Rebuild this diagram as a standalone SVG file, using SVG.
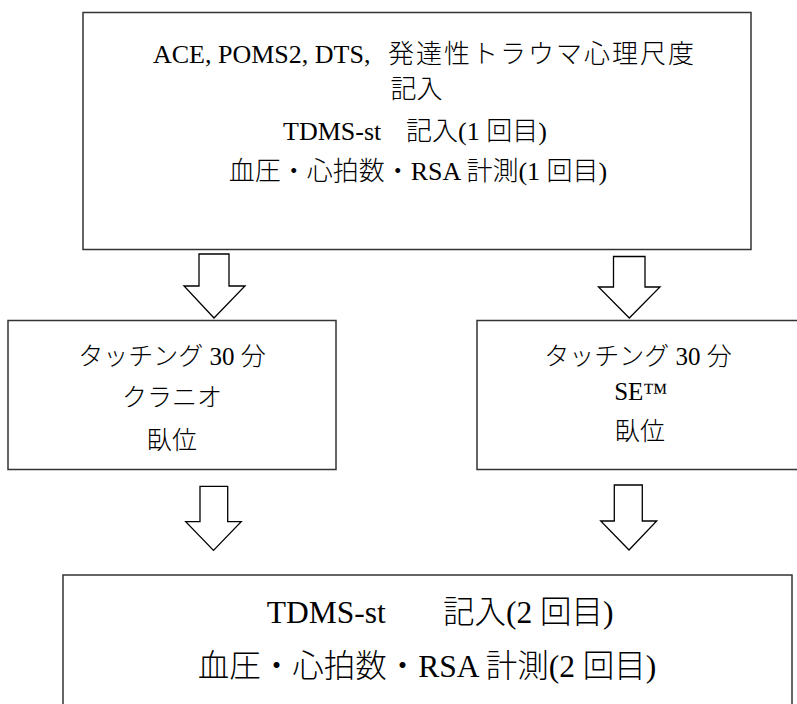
<svg xmlns="http://www.w3.org/2000/svg" width="797" height="704" viewBox="0 0 797 704">
<style>
.box{fill:#fff;stroke:#333;stroke-width:1.5}
.arr{fill:#fff;stroke:#000;stroke-width:1.3;stroke-linejoin:miter}
text{font-family:"Liberation Serif","Noto Sans CJK JP",serif;font-weight:300;fill:#000}
.t26{font-size:26px}
.t25{font-size:25px}
.t31{font-size:31.5px}
.c{text-anchor:middle}
</style>
<rect width="797" height="704" fill="#fff"/>
<g id="connectors">
<polygon class="arr" points="199,254 229,254 229,286 245,286 214,318 184,286 199,286"/>
<polygon class="arr" points="613.5,256.5 645,256.5 645,287 660,287 629.3,318 598.5,287 613.5,287"/>
<polygon class="arr" points="200,486.3 227.7,486.3 227.7,521.7 241.2,521.7 213.5,550.4 185.7,521.7 200,521.7"/>
<polygon class="arr" points="614.3,485 642.3,485 642.3,521 656.7,521 629,550 600.7,521 614.3,521"/>
</g>
<g id="node-start">
<rect class="box" x="83" y="12.5" width="668" height="237"/>
<text class="t26" y="63.4"><tspan x="153">ACE, POMS2, DTS,</tspan><tspan x="388" letter-spacing="2">発達性トラウマ心理尺度</tspan></text>
<text class="t26 c" x="416.5" y="98">記入</text>
<text class="t26" y="140"><tspan x="283">TDMS-st</tspan><tspan x="406">記入(1 回目)</tspan></text>
<text class="t26 c" x="418" y="180">血圧・心拍数・RSA 計測(1 回目)</text>
</g>
<g id="node-cranio">
<rect class="box" x="8" y="320.5" width="328" height="149"/>
<text class="t25 c" x="172" y="365">タッチング 30 分</text>
<text class="t25 c" x="172" y="406">クラニオ</text>
<text class="t25 c" x="172" y="449">臥位</text>
</g>
<g id="node-se">
<rect class="box" x="477" y="320.5" width="340" height="149"/>
<text class="t25 c" x="638" y="365">タッチング 30 分</text>
<text class="t25 c" x="641" y="400">SE™</text>
<text class="t25 c" x="640" y="440">臥位</text>
</g>
<g id="node-end">
<rect class="box" x="63" y="575" width="729" height="145"/>
<text class="t31" y="622.7"><tspan x="266.7">TDMS-st</tspan><tspan x="443">記入(2 回目)</tspan></text>
<text class="t31 c" x="427" y="677">血圧・心拍数・RSA 計測(2 回目)</text>
</g>
</svg>
